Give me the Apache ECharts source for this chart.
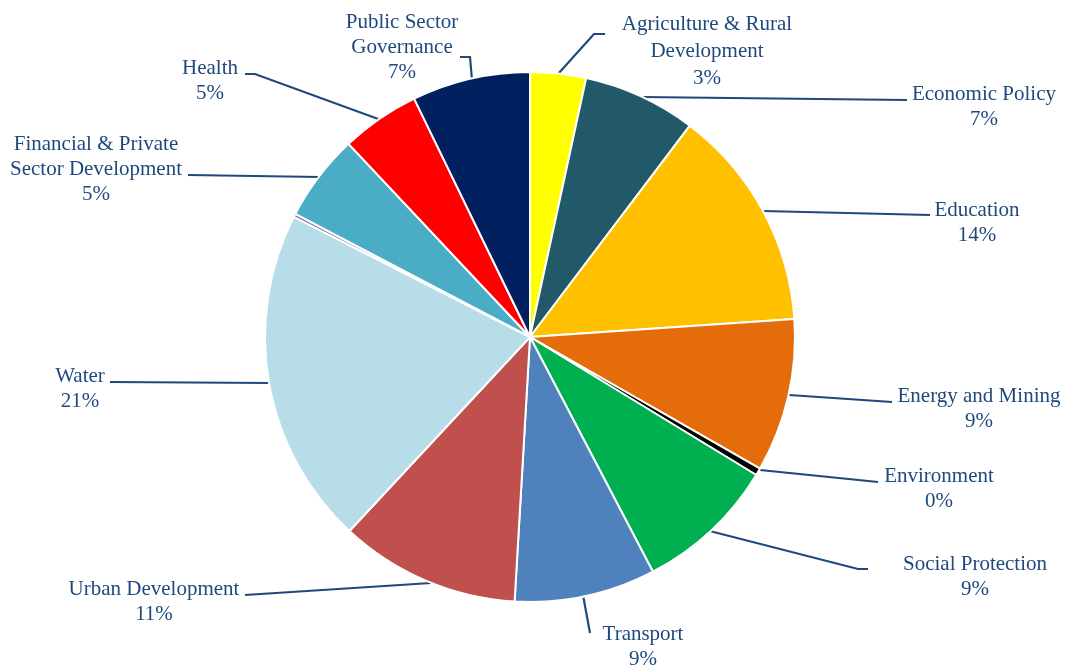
<!DOCTYPE html>
<html>
<head>
<meta charset="utf-8">
<script src="https://cdn.jsdelivr.net/npm/echarts@6/dist/echarts.min.js"></script>
<style>
  html, body { margin: 0; padding: 0; background: #fff; }
  #main { width: 1065px; height: 666px; }
</style>
</head>
<body>
<div id="main"></div>
<script>
// sector shares (%), clockwise from 12 o'clock
const categories = [
  'Agriculture & Rural\nDevelopment',
  'Economic Policy',
  'Education',
  'Energy and Mining',
  'Environment',
  'Social Protection',
  'Transport',
  'Urban Development',
  'Water',
  'Other',
  'Financial & Private\nSector Development',
  'Health',
  'Public Sector\nGovernance'
];
const shares = [3.4, 6.9, 13.6, 9.35, 0.45, 8.6, 8.6, 11.0, 20.55, 0.2, 5.3, 4.8, 7.2];
const colors = ['#FFFF00', '#215968', '#FFC000', '#E46C0A', '#000000', '#00B050', '#4F81BD',
  '#C0504D', '#B7DEE8', '#8064A2', '#4BACC6', '#FF0000', '#002060'];

// label placement (centre x, top y) and leader lines, like the Excel original
const labelPos = [
  { x: 707, y: 11, line: [[558, 74], [594, 34], [605, 34]] },
  { x: 984, y: 82, line: [[642, 97], [907, 100]] },
  { x: 977, y: 198, line: [[763, 211], [930, 215]] },
  { x: 979, y: 384, line: [[789, 395], [892, 402]] },
  { x: 939, y: 464, line: [[760, 470], [878, 482]] },
  { x: 975, y: 552, line: [[698, 528], [858, 569], [868, 569]] },
  { x: 643, y: 622, line: [[583, 595], [590, 633]] },
  { x: 154, y: 577, line: [[431, 583], [245, 595]] },
  { x: 80, y: 364, line: [[270, 383], [110, 382]] },
  null,
  { x: 96, y: 132, line: [[320, 177], [188, 175]] },
  { x: 210, y: 56, line: [[381, 120], [255, 74], [245, 74]] },
  { x: 402, y: 10, line: [[472, 80], [470, 57], [460, 57]] }
];

const myChart = echarts.init(document.getElementById('main'));
const data = categories.map((name, i) => {
  const item = { name: name, value: shares[i], itemStyle: { color: colors[i] } };
  if (!labelPos[i]) {
    item.label = { show: false };
    item.labelLine = { show: false };
  }
  if (i === 0) item.label = { lineHeight: 27 };
  return item;
});

myChart.setOption({
  backgroundColor: '#fff',
  animation: false,
  series: [
    {
      type: 'pie',
      center: [530, 337],
      radius: 265,
      startAngle: 90,
      clockwise: true,
      avoidLabelOverlap: false,
      itemStyle: { borderColor: '#fff', borderWidth: 2 },
      label: {
        show: true,
        position: 'outside',
        color: '#1F497D',
        fontFamily: '"Liberation Serif", "Times New Roman", serif',
        fontSize: 21,
        lineHeight: 25,
        align: 'center',
        formatter(p) {
          return p.name + '\n' + Math.round(p.percent) + '%';
        }
      },
      labelLine: {
        show: true,
        lineStyle: { color: '#1F497D', width: 2.2 }
      },
      labelLayout(params) {
        const p = labelPos[params.dataIndex];
        if (!p) return {};
        return {
          x: p.x,
          y: p.y,
          align: 'center',
          verticalAlign: 'top',
          labelLinePoints: p.line
        };
      },
      data: data
    }
  ]
});
</script>
</body>
</html>
